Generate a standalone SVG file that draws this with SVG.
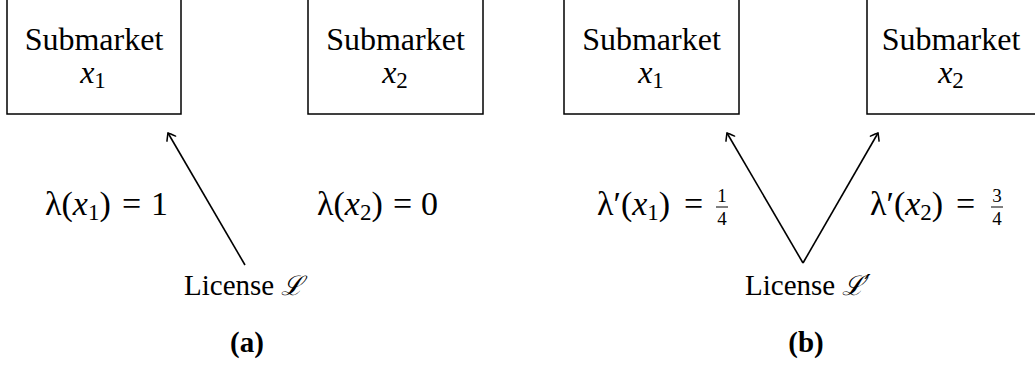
<svg xmlns="http://www.w3.org/2000/svg" width="1035" height="372" viewBox="0 0 1035 372">
<style>
.box{fill:#fff;stroke:#000;stroke-width:1.5}
.t{font-family:"Liberation Serif","DejaVu Serif",serif;font-size:32px;fill:#000}
.m{font-family:"Liberation Serif","DejaVu Serif",serif;font-size:34px;fill:#000}
.i{font-style:italic}
.sub{font-size:23px}
.fr{font-family:"Liberation Serif","DejaVu Serif",serif;font-size:19px;fill:#000;text-anchor:middle}
.lic{font-family:"Liberation Serif","DejaVu Serif",serif;font-size:29px;fill:#000}
.cal{font-family:"DejaVu Serif","Liberation Serif",serif;font-size:27px;font-style:italic}
.cap{font-family:"Liberation Serif","DejaVu Serif",serif;font-size:29px;font-weight:bold;fill:#000;text-anchor:middle}
.c{text-anchor:middle}
.edge{stroke:#000;stroke-width:1.6;fill:none}
.bar{stroke:#000;stroke-width:1}
</style>
<defs>
<marker id="arr" markerUnits="userSpaceOnUse" markerWidth="16" markerHeight="16" viewBox="-8 -8 16 16" refX="0" refY="0" orient="auto">
<path d="M -6.5 -5 Q -1.5 -1.3 0 0 Q -1.5 1.3 -6.5 5" fill="none" stroke="#000" stroke-width="1.5" stroke-linecap="round"/>
</marker>
</defs>
<rect width="1035" height="372" fill="#fff"/>
<g id="submarket-a1">
<rect class="box" x="7" y="-10" width="174" height="124"/>
<text class="t c" x="94" y="50">Submarket</text>
<text class="t c" x="93" y="83"><tspan class="i">x</tspan><tspan class="sub" dy="5">1</tspan></text>
</g>
<g id="submarket-a2">
<rect class="box" x="308" y="-10" width="175" height="124"/>
<text class="t c" x="395.5" y="50">Submarket</text>
<text class="t c" x="395" y="83"><tspan class="i">x</tspan><tspan class="sub" dy="5">2</tspan></text>
</g>
<g id="license-a">
<text class="lic" x="184" y="295">License <tspan class="cal">ℒ</tspan></text>
</g>
<g id="submarket-b1">
<rect class="box" x="564" y="-10" width="175" height="124"/>
<text class="t c" x="651.5" y="50">Submarket</text>
<text class="t c" x="651" y="83"><tspan class="i">x</tspan><tspan class="sub" dy="5">1</tspan></text>
</g>
<g id="submarket-b2">
<rect class="box" x="867" y="-10" width="180" height="124"/>
<text class="t c" x="951" y="50">Submarket</text>
<text class="t c" x="951" y="83"><tspan class="i">x</tspan><tspan class="sub" dy="5">2</tspan></text>
</g>
<g id="license-b">
<text class="lic" x="745" y="295">License <tspan class="cal">ℒ′</tspan></text>
</g>
<g id="connectors">
<line class="edge" x1="245" y1="265" x2="168" y2="133" marker-end="url(#arr)"/>
<line class="edge" x1="803" y1="263" x2="727" y2="133" marker-end="url(#arr)"/>
<line class="edge" x1="803" y1="263" x2="878" y2="133" marker-end="url(#arr)"/>
</g>
<g id="labels">
<text class="m" x="45" y="215">λ(<tspan class="i">x</tspan><tspan class="sub" dy="5">1</tspan><tspan dy="-5">)</tspan></text>
<text class="m" x="122" y="215">=</text>
<text class="m" x="151" y="215">1</text>
<text class="m" x="317" y="215">λ(<tspan class="i">x</tspan><tspan class="sub" dy="5">2</tspan><tspan dy="-5">)</tspan></text>
<text class="m" x="393" y="215">=</text>
<text class="m" x="421" y="215">0</text>
<text class="m" x="597" y="215">λ′(<tspan class="i">x</tspan><tspan class="sub" dy="5">1</tspan><tspan dy="-5">)</tspan></text>
<text class="m" x="684" y="215">=</text>
<text class="fr" x="722" y="202">1</text>
<line class="bar" x1="716" y1="207" x2="728" y2="207"/>
<text class="fr" x="722" y="225">4</text>
<text class="m" x="870" y="215">λ′(<tspan class="i">x</tspan><tspan class="sub" dy="5">2</tspan><tspan dy="-5">)</tspan></text>
<text class="m" x="956" y="215">=</text>
<text class="fr" x="997" y="202">3</text>
<line class="bar" x1="991" y1="207" x2="1003" y2="207"/>
<text class="fr" x="997" y="225">4</text>
<text class="cap" x="247" y="352">(a)</text>
<text class="cap" x="806" y="352">(b)</text>
</g>
</svg>
